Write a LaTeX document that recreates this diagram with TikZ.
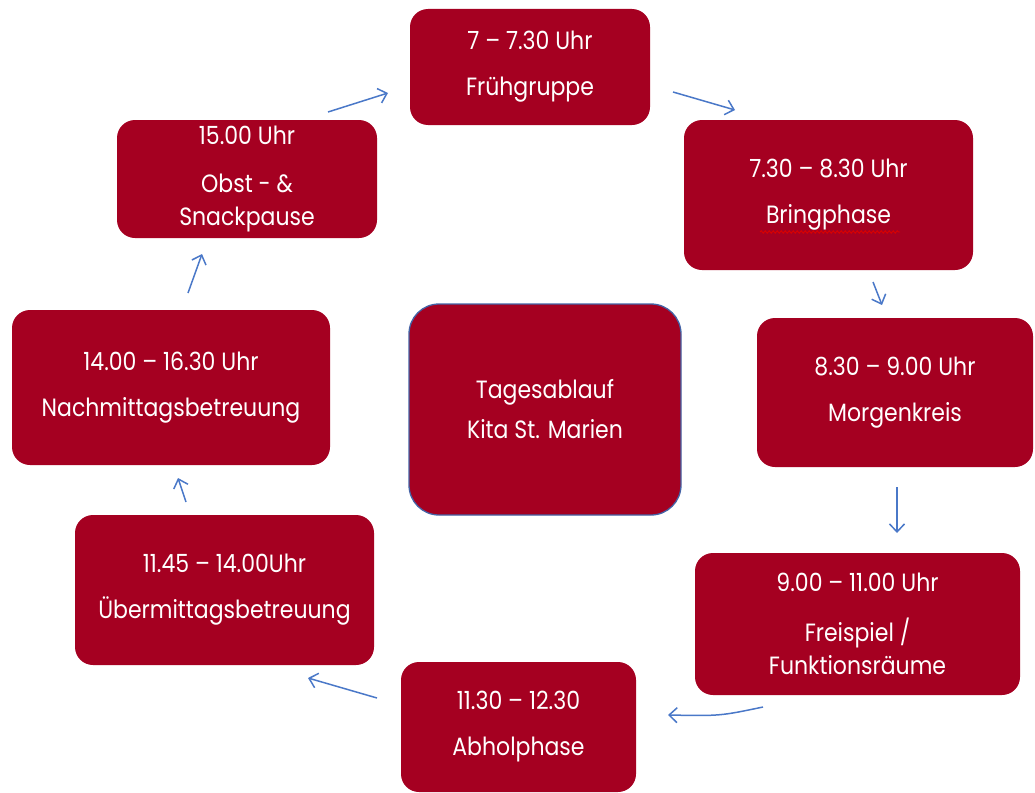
\documentclass[tikz,border=0pt]{standalone}
\usepackage{fontspec}
\setmainfont{Poppins}[FakeStretch=0.88]
\usetikzlibrary{arrows.meta,decorations.pathmorphing}
\definecolor{boxred}{HTML}{A50021}
\definecolor{arrblue}{HTML}{4A78C8}
\definecolor{edgeblue}{HTML}{4463A6}
\begin{document}
\begin{tikzpicture}[x=1pt,y=-1pt,
  stepbox/.style={fill=boxred, rounded corners=18pt, text=white, align=center,
    inner sep=0pt, font=\fontsize{25}{46}\selectfont},
  threeline/.style={font=\fontsize{25}{33}\selectfont},
  flow/.style={draw=arrblue, line width=1.5pt, -{Straight Barb[length=8pt,width=15pt]}}]
\useasboundingbox (0,0) rectangle (1035,792);
% boxes
\node[stepbox, minimum width=240pt, minimum height=116pt] (fruh) at (530,67) {7 – 7.30 Uhr\\Frühgruppe};
\node[stepbox, minimum width=289pt, minimum height=150pt] (bring) at (828.5,195) {7.30 – 8.30 Uhr\\Bringphase};
\node[stepbox, minimum width=276pt, minimum height=149pt] (morgen) at (895,392.5) {8.30 – 9.00 Uhr\\Morgenkreis};
\node[stepbox, threeline, minimum width=325pt, minimum height=142pt] (frei) at (857.5,624) {9.00 – 11.00 Uhr\\[17pt]Freispiel /\\Funktionsräume};
\node[stepbox, minimum width=235pt, minimum height=130pt] (abhol) at (518.5,727) {11.30 – 12.30\\Abholphase};
\node[stepbox, minimum width=299pt, minimum height=150pt] (ueber) at (224.5,590) {11.45 – 14.00Uhr\\Übermittagsbetreuung};
\node[stepbox, minimum width=318pt, minimum height=155pt] (nach) at (171,387.5) {14.00 – 16.30 Uhr\\Nachmittagsbetreuung};
\node[stepbox, threeline, minimum width=260pt, minimum height=118pt] (obst) at (247,179) {15.00 Uhr\\[15pt]Obst - \&\\Snackpause};
\node[stepbox, rounded corners=30pt, draw=edgeblue, line width=1.3pt, font=\fontsize{25}{40}\selectfont,
  minimum width=272pt, minimum height=211pt] (center) at (545,409.5) {Tagesablauf\\Kita St. Marien};
% spell-check underline
\coordinate (ul1) at (760,232);
\coordinate (ul2) at (900,232);
\draw[red!85!black, line width=0.9pt, decorate, decoration={snake, amplitude=1.2pt, segment length=4pt}] (ul1) -- (ul2);
% arrow ends
\coordinate (a1) at (328,112); \coordinate (b1) at (388,93);
\coordinate (a2) at (673,92);  \coordinate (b2) at (735,110);
\coordinate (a3) at (873,282); \coordinate (b3) at (882,305);
\coordinate (a4) at (897,487); \coordinate (b4) at (897,533);
\coordinate (a5) at (763,707); \coordinate (b5) at (668,715);
\coordinate (a6) at (377,698); \coordinate (b6) at (308,678);
\coordinate (a7) at (186,502); \coordinate (b7) at (178,478);
\coordinate (a8) at (188,293); \coordinate (b8) at (202,254);
\draw[flow] (a1) -- (b1);
\draw[flow] (a2) -- (b2);
\draw[flow] (a3) -- (b3);
\draw[flow] (a4) -- (b4);
\draw[flow] (a5) .. controls (720,716) .. (b5);
\draw[flow] (a6) -- (b6);
\draw[flow] (a7) -- (b7);
\draw[flow] (a8) -- (b8);
\end{tikzpicture}
\end{document}
